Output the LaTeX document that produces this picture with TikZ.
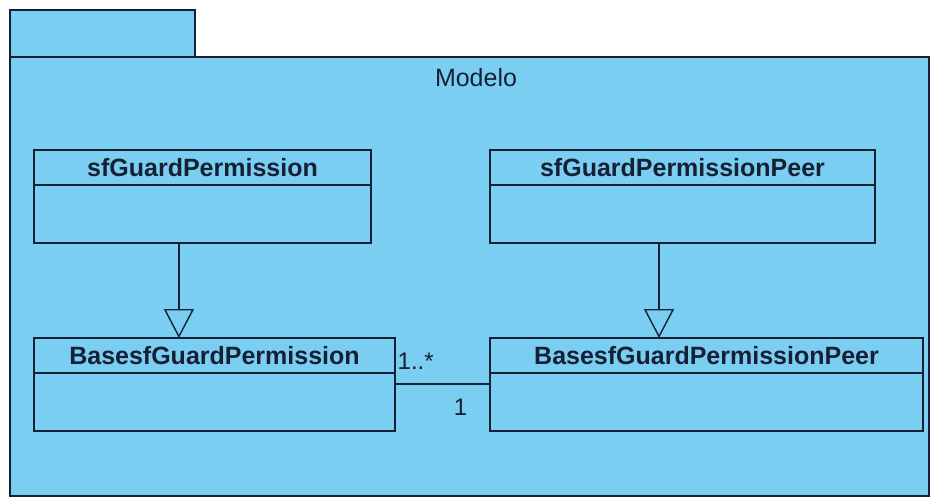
\documentclass[tikz,border=0pt]{standalone}
\usepackage{fontspec}
\setmainfont{Liberation Sans}
\usetikzlibrary{arrows.meta, calc, positioning}
\definecolor{pkgblue}{RGB}{122,206,242}
\definecolor{umlline}{RGB}{22,32,52}

\begin{document}
\begin{tikzpicture}[
    x=1pt, y=-1pt,
    line width=1.4pt,
    pkg/.style={rectangle, draw=umlline, fill=pkgblue, outer sep=0pt, inner sep=0pt, anchor=north west},
    head/.style={rectangle, draw=umlline, fill=pkgblue, outer sep=0pt, inner sep=0pt, minimum height=35pt, anchor=north west, font=\fontsize{25}{28}\selectfont\bfseries, text=umlline},
    attr/.style={rectangle, draw=umlline, fill=pkgblue, outer sep=0pt, inner sep=0pt, minimum height=58pt},
    gen/.style={draw=umlline, -{Triangle[open, length=29pt, width=30pt, fill=pkgblue]}},
    assoc/.style={draw=umlline},
    mult/.style={inner sep=0pt, font=\fontsize{24}{28}\selectfont, text=umlline}
]
\useasboundingbox[fill=white] (0,0) rectangle (933,498);
% Package
\node[pkg, minimum width=185pt, minimum height=47pt] (tab) at (10,10) {};
\node[pkg, minimum width=919pt, minimum height=439pt] (modelo) at (10,57) {};
\node[font=\fontsize{25}{28}\selectfont, text=umlline] (title) at (476,78) {Modelo};
% Classes
\node[head, minimum width=337pt] (perm) at (34,150) {sfGuardPermission};
\node[attr, minimum width=337pt, below=0pt of perm] (permattr) {};
\node[head, minimum width=385pt] (peer) at (490,150) {sfGuardPermissionPeer};
\node[attr, minimum width=385pt, below=0pt of peer] (peerattr) {};
\node[head, minimum width=361pt] (base) at (34,338) {BasesfGuardPermission};
\node[attr, minimum width=361pt, below=0pt of base] (baseattr) {};
\node[head, minimum width=433pt] (basepeer) at (490,338) {BasesfGuardPermissionPeer};
\node[attr, minimum width=433pt, below=0pt of basepeer] (basepeerattr) {};
% Arrows
\coordinate (g1) at ($(permattr.south west)!0.43!(permattr.south east)$);
\coordinate (g2) at ($(peerattr.south west)!0.439!(peerattr.south east)$);
\draw[gen] (g1) -- (g1 |- base.north);
\draw[gen] (g2) -- (g2 |- basepeer.north);
\draw[assoc] ($(baseattr.north east)+(0,11)$) -- ($(basepeerattr.north west)+(0,11)$);
% Multiplicities
\node[mult, anchor=base west] (m1) at ($(baseattr.north east)+(2,-4)$) {1..*};
\node[mult, anchor=base east] (m2) at ($(basepeerattr.north west)+(-22,42)$) {1};
\end{tikzpicture}
\end{document}
